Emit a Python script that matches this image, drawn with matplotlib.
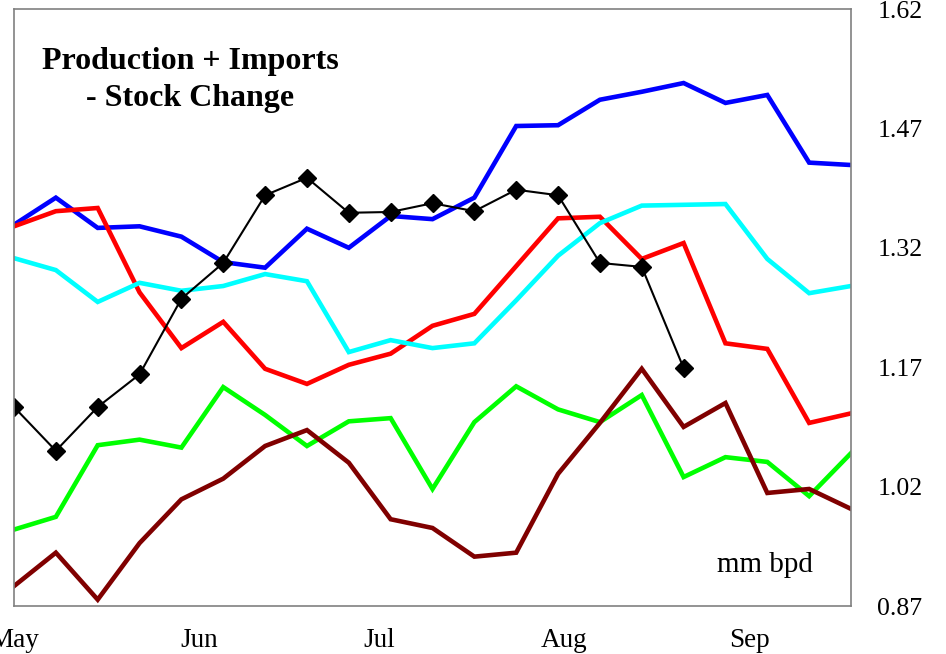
import matplotlib
matplotlib.use("Agg")
import matplotlib.pyplot as plt
import numpy as np

plt.rcParams['font.family'] = ['Liberation Serif', 'DejaVu Serif']

week = np.arange(21) * 7  # days since May 1

blue = [1.349, 1.383, 1.345, 1.347, 1.334, 1.302, 1.295, 1.344, 1.320, 1.360, 1.356,
        1.383, 1.473, 1.474, 1.506, 1.516, 1.527, 1.502, 1.512, 1.427, 1.424]
red = [1.347, 1.366, 1.370, 1.264, 1.194, 1.227, 1.168, 1.149, 1.173, 1.187, 1.222,
       1.237, 1.297, 1.357, 1.359, 1.306, 1.326, 1.200, 1.193, 1.100, 1.112]
cyan = [1.307, 1.292, 1.252, 1.276, 1.266, 1.272, 1.287, 1.278, 1.189, 1.204, 1.194,
        1.200, 1.254, 1.310, 1.351, 1.373, 1.374, 1.375, 1.306, 1.263, 1.272]
green = [0.966, 0.982, 1.072, 1.079, 1.069, 1.145, 1.110, 1.071, 1.102, 1.106, 1.017,
         1.101, 1.146, 1.117, 1.101, 1.135, 1.032, 1.057, 1.051, 1.008, 1.062]
maroon = [0.895, 0.937, 0.878, 0.949, 1.004, 1.030, 1.071, 1.091, 1.050, 0.979, 0.968,
          0.932, 0.937, 1.036, 1.100, 1.168, 1.095, 1.125, 1.012, 1.017, 0.992]
current = [1.120, 1.065, 1.120, 1.161, 1.256, 1.301, 1.386, 1.408, 1.364, 1.365, 1.376,
           1.366, 1.393, 1.386, 1.301, 1.296, 1.169]

month_days = [0, 31, 61, 92, 123]
month_labels = ['May', 'Jun', 'Jul', 'Aug', 'Sep']
y_ticks = [0.87, 1.02, 1.17, 1.32, 1.47, 1.62]

fig = plt.figure(figsize=(9.46, 6.54), dpi=100)
ax = fig.add_axes([14/946, 1-606/654, (851-14)/946, (606-9)/654])

lw = 3.3
ax.plot(week, blue, color='#0000FF', lw=lw, solid_joinstyle='miter')
ax.plot(week, red, color='#FF0000', lw=lw, solid_joinstyle='miter')
ax.plot(week, cyan, color='#00FFFF', lw=lw, solid_joinstyle='miter')
ax.plot(week, green, color='#00FF00', lw=lw, solid_joinstyle='miter')
ax.plot(week, maroon, color='#800000', lw=lw, solid_joinstyle='miter')
ax.plot(week[:len(current)], current, color='black', lw=1.5, marker='D', ms=9,
        markerfacecolor='black', markeredgecolor='black')

ax.set_xlim(0, 140)
ax.set_ylim(0.87, 1.62)
ax.set_xticks(month_days)
ax.set_xticklabels(month_labels)
ax.set_yticks(y_ticks)
ax.set_yticklabels([f'{v:.2f}' for v in y_ticks])
ax.yaxis.tick_right()
ax.tick_params(axis='both', length=0)
ax.tick_params(axis='y', pad=19, labelsize=18.5)
ax.tick_params(axis='x', pad=16, labelsize=19.5)

for s in ax.spines.values():
    s.set_color('#808080')
    s.set_linewidth(1.2)

fig.text(190/946, 1-69/654, 'Production + Imports', ha='center', va='baseline',
         fontsize=23, fontweight='bold')
fig.text(190/946, 1-106/654, '- Stock Change', ha='center', va='baseline',
         fontsize=23, fontweight='bold')
fig.text(813/946, 1-572/654, 'mm bpd', ha='right', va='baseline', fontsize=21)

fig.savefig('out.png', dpi=100)
